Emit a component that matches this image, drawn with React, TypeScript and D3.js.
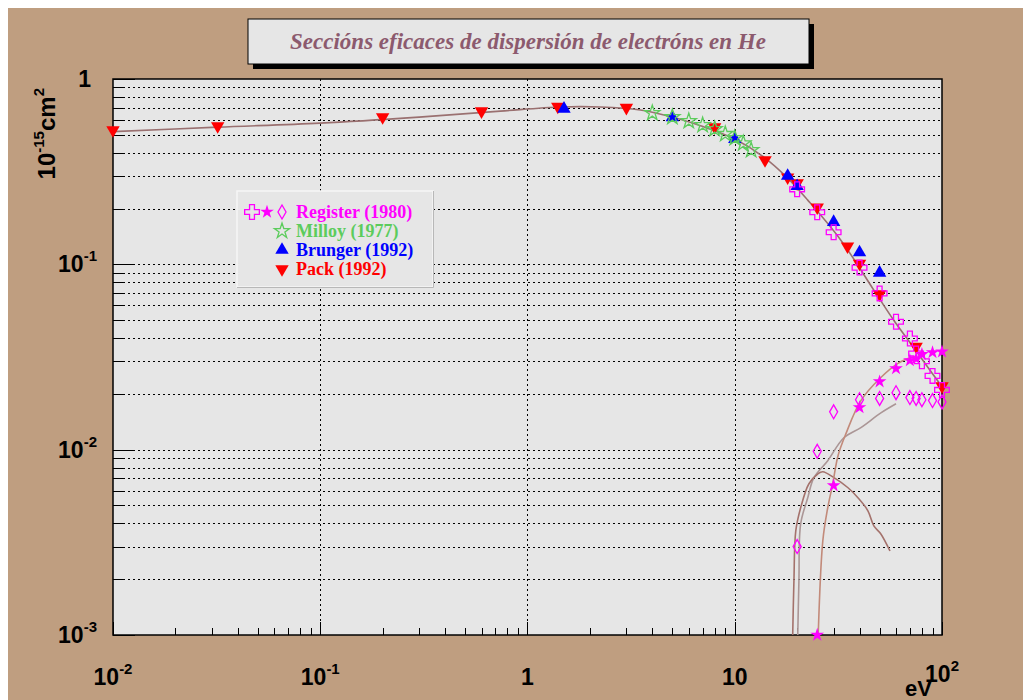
import { useEffect, useRef } from 'react'
import * as d3 from 'd3'

type Pt = [number, number]

const TITLE = 'Seccións eficaces de dispersión de electróns en He'

const X_DOMAIN: [number, number] = [0.01, 100]
const Y_DOMAIN: [number, number] = [0.001, 1]
const X_GRID = [0.1, 1, 10]
const X_LABELS: [number, string, string][] = [
  [0.01, '10', '-2'], [0.1, '10', '-1'], [1, '1', ''], [10, '10', ''], [100, '10', '2'],
]
const Y_LABELS: [number, string, string][] = [
  [0.001, '10', '-3'], [0.01, '10', '-2'], [0.1, '10', '-1'], [1, '1', ''],
]

// energy (eV), cross section (1e-15 cm2)
const PACK: Pt[] = [
  [0.01, 0.53], [0.032, 0.557], [0.2, 0.623], [0.6, 0.67], [1.4, 0.71], [3, 0.70],
  [8, 0.55], [14, 0.365], [18, 0.295], [20, 0.274], [25, 0.203], [35, 0.125],
  [40, 0.101], [50, 0.069], [75, 0.036], [100, 0.022],
]
const BRUNGER: Pt[] = [
  [1.5, 0.69], [5, 0.62], [10, 0.474], [18, 0.30], [20, 0.264], [30, 0.169],
  [40, 0.116], [50, 0.09],
]
const MILLOY: Pt[] = [
  [4, 0.655], [5, 0.623], [6, 0.593], [7, 0.564], [8, 0.537], [9, 0.505],
  [10, 0.48], [11, 0.45], [12, 0.413],
]
const REG_CROSS: Pt[] = [
  [20, 0.254], [25, 0.191], [30, 0.149], [40, 0.096], [50, 0.0697], [60, 0.049],
  [70, 0.0398], [75, 0.033], [80, 0.030], [90, 0.025], [100, 0.021],
]
const REG_STAR: Pt[] = [
  [25, 0.001], [30, 0.0064], [40, 0.0169], [50, 0.0233], [60, 0.0274], [70, 0.0303],
  [75, 0.031], [80, 0.0327], [90, 0.0335], [100, 0.0338],
]
const REG_DIAMOND: Pt[] = [
  [20, 0.003], [25, 0.0098], [30, 0.016], [40, 0.0186], [50, 0.0189], [60, 0.0203],
  [70, 0.0191], [75, 0.0189], [80, 0.0186], [90, 0.0184], [100, 0.0181],
]

const FIT_TOTAL: Pt[] = [
  [0.01, 0.52], [0.032, 0.55], [0.1, 0.578], [0.3, 0.623], [0.74, 0.671], [1.44, 0.706],
  [2.25, 0.706], [3.5, 0.68], [5, 0.623], [6.9, 0.557], [10, 0.474], [13.8, 0.379],
  [18, 0.292], [22.5, 0.222], [32.5, 0.135], [47, 0.0723], [58.6, 0.0498],
  [73, 0.0356], [90, 0.0257], [99, 0.0222],
]
const FIT_PEAK: Pt[] = [
  [19, 0.0009], [19.3, 0.00196], [19.7, 0.00365], [20.8, 0.00486], [22.8, 0.00655],
  [25.2, 0.00741], [26.6, 0.0076], [30.1, 0.00706], [35.2, 0.00623], [39.3, 0.0055],
  [43.9, 0.00468], [46.9, 0.00388], [50.7, 0.00351], [56.1, 0.00284],
]
const FIT_DIAM: Pt[] = [
  [20.1, 0.0009], [20.4, 0.00196], [20.8, 0.00398], [22.5, 0.0055], [24.1, 0.00706],
  [28.1, 0.00872], [33.6, 0.0116], [40.6, 0.01315], [50.7, 0.0158], [60, 0.0177],
]
const FIT_STAR: Pt[] = [
  [25.2, 0.0009], [26.6, 0.00322], [28.1, 0.00486], [29.7, 0.00655], [31.5, 0.00928],
  [34.4, 0.0122], [40.6, 0.0184], [50.7, 0.0245], [61.3, 0.0292], [68.5, 0.031],
  [74.8, 0.0318],
]

const LEGEND = [
  { label: 'Register (1980)', color: '#ff00ff' },
  { label: 'Milloy (1977)', color: '#5ccc5c' },
  { label: 'Brunger (1992)', color: '#0000ff' },
  { label: 'Pack (1992)', color: '#ff0000' },
]

const W = 1023
const H = 692
const P = { left: 105, right: 934, top: 71, bottom: 627 }
const BG = '#bf9e80'
const AXIS_FONT = '"Liberation Sans", Arial, sans-serif'
const SERIF = '"Liberation Serif", "Times New Roman", serif'

export default function App() {
  const svgRef = useRef<SVGSVGElement>(null)

  useEffect(() => {
    if (!svgRef.current) return
    const svg = d3.select(svgRef.current)
    svg.selectAll('*').remove()

    const x = d3.scaleLog().domain(X_DOMAIN).range([P.left, P.right])
    const y = d3.scaleLog().domain(Y_DOMAIN).range([P.bottom, P.top])

    svg.append('rect').attr('width', W).attr('height', H).attr('fill', BG)

    // title box
    svg.append('rect').attr('x', 245).attr('y', 16).attr('width', 561).attr('height', 45).attr('fill', '#000')
    svg.append('rect').attr('x', 240).attr('y', 11).attr('width', 561).attr('height', 45)
      .attr('fill', '#e6e6e6').attr('stroke', '#000').attr('stroke-width', 1)
    svg.append('text').attr('x', 520).attr('y', 41).attr('text-anchor', 'middle')
      .style('font-family', SERIF).style('font-style', 'italic').style('font-weight', 'bold')
      .style('font-size', '23px').attr('fill', '#8c5a6e').text(TITLE)

    // plot area
    svg.append('rect').attr('x', P.left).attr('y', P.top)
      .attr('width', P.right - P.left).attr('height', P.bottom - P.top).attr('fill', '#e6e6e6')

    const grid = svg.append('g').attr('stroke', '#000').attr('stroke-width', 1)
      .attr('stroke-dasharray', '2,3').attr('shape-rendering', 'crispEdges')
    grid.selectAll('line.h')
      .data(y.ticks().filter(v => v > Y_DOMAIN[0] && v < Y_DOMAIN[1]))
      .join('line').attr('class', 'h')
      .attr('x1', P.left).attr('x2', P.right)
      .attr('y1', d => Math.round(y(d)) + 0.5).attr('y2', d => Math.round(y(d)) + 0.5)
    grid.selectAll('line.v').data(X_GRID).join('line').attr('class', 'v')
      .attr('x1', d => Math.round(x(d)) + 0.5).attr('x2', d => Math.round(x(d)) + 0.5)
      .attr('y1', P.top).attr('y2', P.bottom)

    // ticks
    const isMajor = (v: number) => Math.abs(Math.log10(v) - Math.round(Math.log10(v))) < 1e-6
    svg.append('g').attr('stroke', '#000').attr('stroke-width', 1).attr('shape-rendering', 'crispEdges')
      .selectAll('line').data(y.ticks()).join('line')
      .attr('x1', P.left).attr('x2', d => P.left + (isMajor(d) ? 22 : 12))
      .attr('y1', d => Math.round(y(d)) + 0.5).attr('y2', d => Math.round(y(d)) + 0.5)
    svg.append('g').attr('stroke', '#000').attr('stroke-width', 1).attr('shape-rendering', 'crispEdges')
      .selectAll('line').data(x.ticks()).join('line')
      .attr('x1', d => Math.round(x(d)) + 0.5).attr('x2', d => Math.round(x(d)) + 0.5)
      .attr('y1', P.bottom).attr('y2', d => P.bottom - (isMajor(d) ? 13 : 7))

    svg.append('rect').attr('x', P.left).attr('y', P.top)
      .attr('width', P.right - P.left).attr('height', P.bottom - P.top)
      .attr('fill', 'none').attr('stroke', '#000').attr('stroke-width', 1.5)

    // tick labels
    const xl = svg.append('g').style('font-family', AXIS_FONT).style('font-weight', 'bold').attr('fill', '#000')
    X_LABELS.forEach(([v, base, sup]) => {
      const t = xl.append('text').attr('x', x(v)).attr('y', v === 100 ? 674 : 677)
        .attr('text-anchor', 'middle').style('font-size', '23px')
      t.append('tspan').text(base)
      if (sup) t.append('tspan').attr('dy', -11).style('font-size', '15px').text(sup)
    })
    Y_LABELS.forEach(([v, base, sup]) => {
      const t = xl.append('text').attr('x', sup ? 89 : 83).attr('y', y(v) + 8)
        .attr('text-anchor', 'end').style('font-size', '23px')
      t.append('tspan').text(base)
      if (sup) t.append('tspan').attr('dy', -11).style('font-size', '15px').text(sup)
    })
    xl.append('text').attr('x', 924).attr('y', 688).attr('text-anchor', 'end')
      .style('font-size', '22px').text('eV')
    const yt = xl.append('text').attr('transform', 'translate(47,80) rotate(-90)')
      .attr('text-anchor', 'end').style('font-size', '24px')
    yt.append('tspan').text('10')
    yt.append('tspan').attr('dy', -11).style('font-size', '15px').text('-15')
    yt.append('tspan').attr('dy', 11).text('cm')
    yt.append('tspan').attr('dy', -11).style('font-size', '15px').text('2')

    // curves
    svg.append('clipPath').attr('id', 'plotclip').append('rect')
      .attr('x', P.left).attr('y', P.top).attr('width', P.right - P.left).attr('height', P.bottom - P.top)
    const line = d3.line<Pt>().x(d => x(d[0])).y(d => y(d[1])).curve(d3.curveCatmullRom)
    const curves: [Pt[], string][] = [
      [FIT_DIAM, '#ab9696'],
      [FIT_PEAK, '#a4726c'],
      [FIT_STAR, '#c28a7a'],
      [FIT_TOTAL, '#9a7070'],
    ]
    const cg = svg.append('g').attr('clip-path', 'url(#plotclip)')
    curves.forEach(([pts, c]) => {
      cg.append('path').attr('d', line(pts)).attr('fill', 'none')
        .attr('stroke', c).attr('stroke-width', 1.6)
    })

    // markers
    const triUp = d3.symbol(d3.symbolTriangle, 78)()
    const cross = d3.symbol(d3.symbolCross, 120)()
    const starS = d3.symbol(d3.symbolStar, 58)()
    const starM = d3.symbol(d3.symbolStar, 72)()
    const diamond = d3.symbol(d3.symbolDiamond, 56)()

    const marks = (data: Pt[], path: string | null, fill: string, stroke: string, rot = 0) => {
      svg.append('g').selectAll('path').data(data).join('path')
        .attr('d', path)
        .attr('transform', d => `translate(${x(d[0])},${y(d[1])}) rotate(${rot})`)
        .attr('fill', fill).attr('stroke', stroke).attr('stroke-width', stroke === 'none' ? 0 : 1.3)
    }
    marks(PACK, triUp, '#ff0000', 'none', 180)
    marks(BRUNGER, triUp, '#0000ff', 'none')
    marks(MILLOY, starM, 'none', '#5ccc5c')
    marks(REG_DIAMOND, diamond, 'none', '#ff00ff')
    marks(REG_CROSS, cross, 'none', '#ff00ff')
    marks(REG_STAR, starS, '#ff00ff', 'none')

    // legend
    const lg = svg.append('g')
    lg.append('rect').attr('x', 229).attr('y', 183).attr('width', 196).attr('height', 96)
      .attr('fill', '#e6e6e6').attr('stroke', '#f6f6f6').attr('stroke-width', 1.5)
    lg.append('path').attr('d', `M${229},${279.5}H${425.5}V${183}`).attr('fill', 'none')
      .attr('stroke', '#b8b8b8').attr('stroke-width', 1)
    const rowY = [204, 223, 242, 261]
    LEGEND.forEach((l, i) => {
      lg.append('text').attr('x', 288).attr('y', rowY[i] + 6)
        .style('font-family', SERIF).style('font-weight', 'bold').style('font-size', '18px')
        .attr('fill', l.color).text(l.label)
    })
    const legMark = (px: number, py: number, path: string | null, fill: string, stroke: string, rot = 0) =>
      lg.append('path').attr('d', path).attr('transform', `translate(${px},${py}) rotate(${rot})`)
        .attr('fill', fill).attr('stroke', stroke).attr('stroke-width', stroke === 'none' ? 0 : 1.3)
    legMark(244, rowY[0], cross, 'none', '#ff00ff')
    legMark(259, rowY[0], starS, '#ff00ff', 'none')
    legMark(274, rowY[0], diamond, 'none', '#ff00ff')
    legMark(274, rowY[1], starM, 'none', '#5ccc5c')
    legMark(274, rowY[2], triUp, '#0000ff', 'none')
    legMark(274, rowY[3], triUp, '#ff0000', 'none', 180)
  }, [])

  return <svg ref={svgRef} width={W} height={H} style={{ display: 'block' }} />
}
